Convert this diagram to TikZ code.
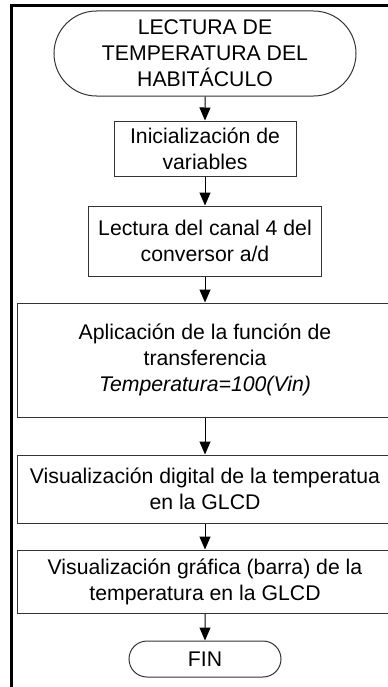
\documentclass[tikz,border=0pt]{standalone}
\usepackage{fontspec}
\setmainfont{Liberation Sans}
\usetikzlibrary{arrows.meta,positioning,shapes.misc}
\tikzset{
  blk/.style={draw=black!80,rectangle,line width=0.05cm,align=center,inner sep=0pt},
  termblk/.style={blk,rounded rectangle},
  arr/.style={-{Triangle[width=0.55cm,length=0.65cm]},line width=0.05cm},
  frm/.style={line width=0.15cm}
}

\begin{document}
\begin{tikzpicture}[every node/.style={font=\fontsize{30.2}{37}\selectfont}]
  \useasboundingbox (0,0) rectangle (19.4,-34.35);
  \clip (0,0) rectangle (19.4,-34.35);

  % Outer frame
  \draw[frm] (0.575,-34.5) -- (0.575,-0.3) -- (19.6,-0.3);

  % Start terminal
  \node[termblk, minimum width=15.1cm, minimum height=4.25cm] (start) at (10.25,-2.675)
    {LECTURA DE\\TEMPERATURA DEL\\HABITÁCULO};

  % Process blocks
  \node[blk, minimum width=9.1cm, minimum height=2.75cm] (init) at (10.25,-7.425)
    {Inicialización de\\variables};
  \node[blk, minimum width=11.65cm, minimum height=3.5cm] (adc) at (10.25,-12.05)
    {Lectura del canal 4 del\\conversor a/d};
  \node[blk, minimum width=18.8cm, minimum height=5.7cm] (xfer) at (10.25,-18.0)
    {Aplicación de la función de\\transferencia\\\textit{Temperatura=100(Vin)}};
  \node[blk, minimum width=18.8cm, minimum height=3.4cm] (digit) at (10.25,-24.45)
    {Visualización digital de la temperatua\\en la GLCD};
  \node[blk, minimum width=18.8cm, minimum height=3.15cm] (graph) at (10.25,-29.075)
    {Visualización gráfica (barra) de la\\temperatura en la GLCD};

  % End terminal
  \node[termblk, minimum width=7.6cm, minimum height=1.8cm] (fin) at (10.25,-32.95) {FIN};

  % Connections
  \draw[arr] (start) -- (init);
  \draw[arr] (init) -- (adc);
  \draw[arr] (adc) -- (xfer);
  \draw[arr] (xfer) -- (digit);
  \draw[arr] (digit) -- (graph);
  \draw[arr] (graph) -- (fin);
\end{tikzpicture}
\end{document}
